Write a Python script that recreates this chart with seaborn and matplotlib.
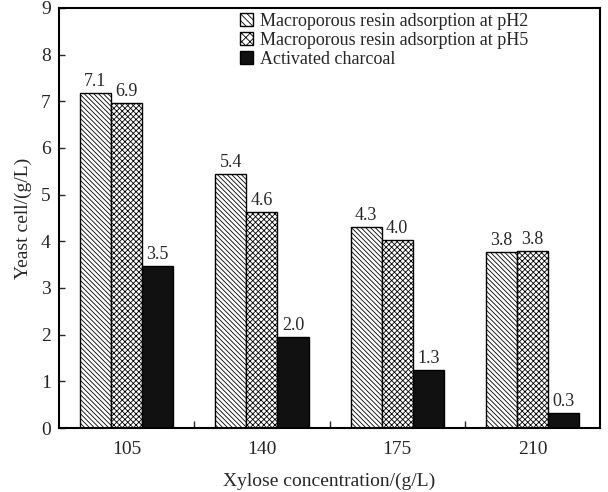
import pandas as pd
import seaborn as sns
import matplotlib.pyplot as plt
from matplotlib.ticker import FixedLocator

# Data
xylose = ['105', '140', '175', '210']
series_names = ['Macroporous resin adsorption at pH2',
                'Macroporous resin adsorption at pH5',
                'Activated charcoal']
ph2 = [7.18, 5.44, 4.31, 3.77]
ph5 = [6.97, 4.63, 4.03, 3.79]
charcoal = [3.48, 1.95, 1.24, 0.32]
ph2_labels = ['7.1', '5.4', '4.3', '3.8']
ph5_labels = ['6.9', '4.6', '4.0', '3.8']
charcoal_labels = ['3.5', '2.0', '1.3', '0.3']

df = pd.DataFrame({
    'xylose': xylose * 3,
    'series': [series_names[0]] * 4 + [series_names[1]] * 4 + [series_names[2]] * 4,
    'value': ph2 + ph5 + charcoal,
})
labels = [ph2_labels, ph5_labels, charcoal_labels]

# Style
sns.set_theme(style='white')
plt.rcParams['font.family'] = ['Liberation Serif', 'DejaVu Serif']
plt.rcParams['hatch.linewidth'] = 0.6
plt.rcParams['hatch.color'] = 'black'

fig = plt.figure(figsize=(6.08, 4.92), dpi=100)
ax = fig.add_axes([0.097, 0.130, 0.890, 0.854])

palette = {series_names[0]: 'white', series_names[1]: 'white', series_names[2]: '#111111'}
sns.barplot(data=df, x='xylose', y='value', hue='series', order=xylose,
            hue_order=series_names, palette=palette, width=0.69, gap=0,
            edgecolor='black', linewidth=1.0, saturation=1, ax=ax)

hatches = ['\\' * 7, 'x' * 6, '']
for cont, hatch, labs in zip(ax.containers, hatches, labels):
    for bar, lab in zip(cont, labs):
        bar.set_hatch(hatch)
        ax.annotate(lab, (bar.get_x() + bar.get_width() / 2, bar.get_height()),
                    xytext=(0, 2), textcoords='offset points',
                    ha='center', va='bottom', fontsize=13)

ax.set_xlim(-0.5, 3.5)
ax.set_ylim(0, 9)
ax.set_yticks(range(0, 10))
ax.set_xlabel('Xylose concentration/(g/L)', fontsize=14, labelpad=11)
ax.set_ylabel('Yeast cell/(g/L)', fontsize=14, labelpad=6)

ax.tick_params(axis='y', direction='in', length=4, width=1, left=True, labelsize=14, pad=6)
ax.tick_params(axis='x', which='major', length=0, pad=9, labelsize=14)
ax.xaxis.set_minor_locator(FixedLocator([0.5, 1.5, 2.5]))
ax.tick_params(axis='x', which='minor', direction='in', length=5, width=1, bottom=True)

for s in ax.spines.values():
    s.set_visible(True)
    s.set_color('black')
    s.set_linewidth(1.5)

leg = ax.legend(loc='upper left', bbox_to_anchor=(0.322, 1.005), frameon=False,
                fontsize=13, handlelength=0.7, handleheight=0.7,
                handletextpad=0.4, labelspacing=0.1, borderaxespad=0.0)
for handle, hatch in zip(leg.legend_handles, hatches):
    handle.set_hatch(hatch.replace('\\' * 7, '\\' * 5).replace('x' * 6, 'x' * 4))

fig.savefig('out.png', dpi=100)
